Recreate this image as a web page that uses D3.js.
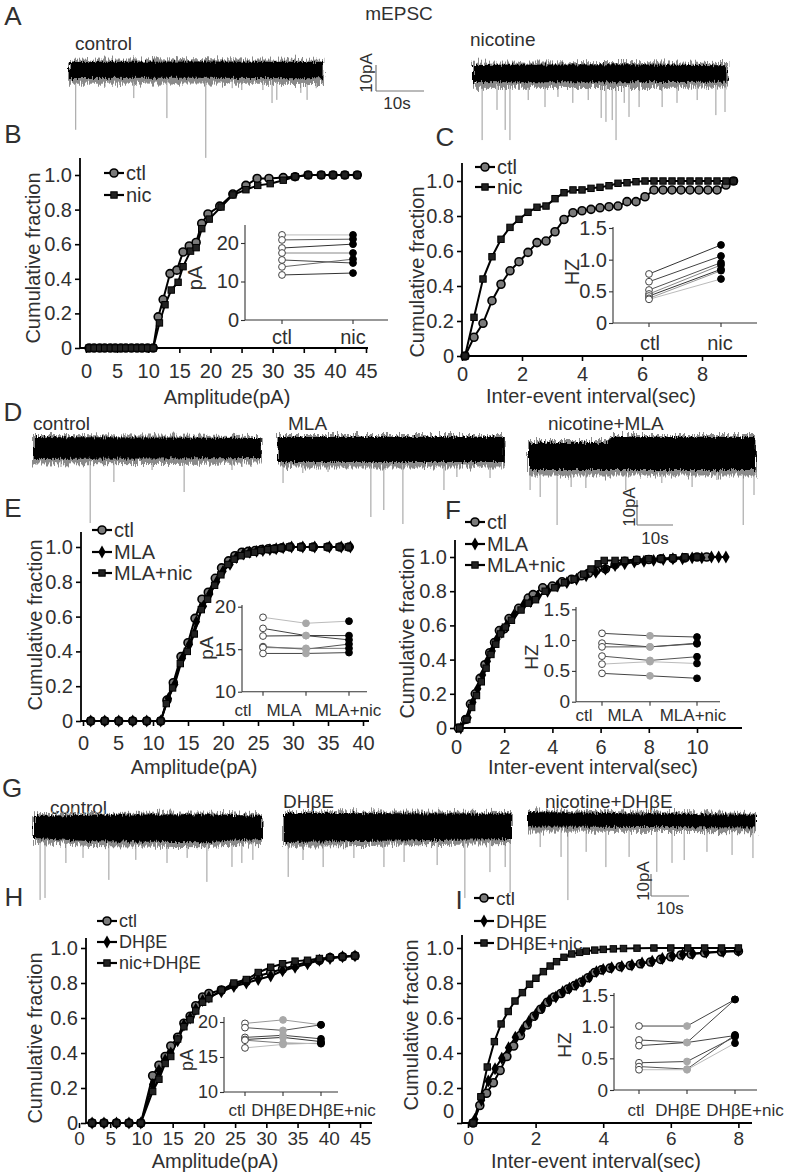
<!DOCTYPE html>
<html><head><meta charset="utf-8">
<script src="https://cdn.jsdelivr.net/npm/d3@7"></script>
<style>body{margin:0;background:#fff}</style>
</head><body><svg id="fig" width="787" height="1173">
<defs>
  <filter id="roughCore" x="-3%" y="-60%" width="106%" height="220%">
    <feTurbulence type="fractalNoise" baseFrequency="1.1 0.08" numOctaves="2" seed="4" result="n"/>
    <feDisplacementMap in="SourceGraphic" in2="n" scale="7" xChannelSelector="R" yChannelSelector="G"/>
  </filter>
  <filter id="roughFuzz" x="-3%" y="-80%" width="106%" height="260%">
    <feTurbulence type="fractalNoise" baseFrequency="1.4 0.04" numOctaves="2" seed="9" result="n"/>
    <feDisplacementMap in="SourceGraphic" in2="n" scale="14" xChannelSelector="R" yChannelSelector="G"/>
  </filter>
</defs>
</svg>
<script>
// ================= DATA =================
// --- Trace events (time s, amplitude pA) and band envelopes [t, top pA, bottom pA]
const A_ctlEvT   = [1.4,7.5,13.5,20.4,28.5,34,36,40.4,42.3,43.3,48.3,49.6,51.5];
const A_ctlEvAmp = [23,6.5,10.8,18.5,33.8,7,7.7,7.7,12.7,11.5,8.8,11.5,7];
const A_ctlBand  = [[0,3.1,-3.1],[26,3.3,-3.0],[53,3.1,-3.2]];
const A_nicEvT   = [1.9,5.0,6.7,7.7,11.5,15.0,17.7,20.8,24.0,26.7,27.7,29.0,29.8,31.5,32.5,34.6,39.4,42.5,46.7,50.6,52.5];
const A_nicEvAmp = [25.8,14.2,21.9,25.8,10.4,13.1,9.2,11.5,10.4,17.3,18.8,18.1,25.8,11.5,16.9,13.1,13.1,11.5,10.4,16.2,15];
const A_nicBand  = [[0,3.1,-3.5],[30,3.4,-3.6],[53,3.0,-3.4]];

const D_ctlEvT   = [7.5,15.6,22.2,32.8,41.7,55,57.8];
const D_ctlEvAmp = [7.6,30,13.6,8.8,17.6,8.8,7.6];
const D_ctlBand  = [[0,4.4,-4.4],[63,4.0,-4.0]];
const D_mlaEvT   = [1.4,6.9,13.9,25.8,29.4,34.7,46.1,49.7,58.9];
const D_mlaEvAmp = [13.6,9.6,9.2,27.2,24.4,30,16.4,11.2,11.6];
const D_mlaBand  = [[0,4.8,-5.2],[63,4.8,-5.2]];
const D_nmEvT    = [0.3,3.1,7.8,11.7,15.8,26.9,36.9,45.3,52.2,59.5,62.5];
const D_nmEvAmp  = [14,16.8,28,12.8,13.2,14,11.2,12.8,10,28,16];
const D_nmBand   = [[0,4.8,-6],[22,4.8,-6],[23,7.2,-6],[63,7.2,-6]];

const G_ctlEvT   = [1.6,2.9,8.4,12.9,19.7,26.8,35,40.3,45.5,52.1,54.7,57.6];
const G_ctlEvAmp = [32.7,31.8,15.9,13.6,23.6,14.5,15.9,13.6,24.5,17.7,15.9,14.5];
const G_ctlBand  = [[0,5.5,-4.5],[15,6,-6],[45,6.2,-6.5],[60,5.5,-5]];
const G_dhEvT    = [1.1,5,10.3,18.4,26.3,31.6,40.3,47.6,54.2,58.2,59.5];
const G_dhEvAmp  = [22.7,15,18.2,14.1,18.2,15.9,17.3,32.3,20.5,18.2,30];
const G_dhBand   = [[0,6.4,-6.8],[15,6.4,-6.5],[60,6.0,-5.5]];
const G_ndEvT    = [3.2,8.7,10.5,15.3,20.5,26.6,33.9,37.9,41.1,47.1,53.7,59.2];
const G_ndEvAmp  = [12.3,16.8,36.4,14.5,21.4,16.8,23.6,19.5,18.2,14.5,15.9,17.3];
const G_ndBand   = [[0,3.6,-3.0],[60,2.4,-3.4]];

// --- Panel B (amplitude, pA)
const B_ctlX = [0.5,1.3,2.2,3.0,3.9,4.7,5.6,6.4,7.3,8.2,9.0,9.9,10.8,11.6,12.4,13.5,14.6,15.6,16.6,17.7,18.6,19.6,21.5,23.6,25.7,27.5,29.4,31.7,33.6,35.7,37.8,39.7,41.6,43.6];
const B_ctlY = [0,0,0,0,0,0,0,0,0,0,0,0,0,0.18,0.28,0.43,0.45,0.555,0.59,0.61,0.72,0.775,0.82,0.89,0.94,0.98,0.98,0.985,0.99,1,1,1,1,1];
const B_nicX = [0.5,1.3,2.2,3.0,3.9,4.7,5.6,6.4,7.3,8.2,9.0,9.9,10.8,11.8,12.7,13.7,14.8,15.6,16.8,17.7,18.6,19.8,21.7,23.6,25.7,27.6,29.6,31.7,33.6,35.7,37.8,39.7,41.6,43.6];
const B_nicY = [0,0,0,0,0,0,0,0,0,0,0,0,0,0.145,0.25,0.335,0.38,0.47,0.56,0.58,0.69,0.745,0.815,0.885,0.915,0.94,0.95,0.97,0.99,1,1,1,1,1];
const B_inCtl = [22.1,20.8,18.7,17.4,15.6,13.8,11.7];
const B_inNic = [22.1,21.0,19.7,17.4,14.8,15.8,12.2];

// --- Panel C (inter-event interval, s)
const C_ctlX = [0.1,0.4,0.7,1.0,1.3,1.6,1.9,2.2,2.5,2.8,3.1,3.4,3.7,4.0,4.3,4.6,4.9,5.2,5.5,5.8,6.1,6.4,6.7,7.0,7.3,7.6,7.9,8.2,8.5,8.8,9.05];
const C_ctlY = [0,0.107,0.187,0.316,0.41,0.487,0.539,0.592,0.648,0.657,0.71,0.78,0.819,0.83,0.838,0.847,0.853,0.857,0.882,0.882,0.91,0.949,0.949,0.949,0.949,0.949,0.949,0.949,0.949,0.977,1.0];
const C_nicX = [0.1,0.4,0.7,1.0,1.3,1.6,1.9,2.2,2.5,2.8,3.1,3.4,3.7,4.0,4.3,4.6,4.9,5.2,5.5,5.8,6.1,6.4,6.7,7.0,7.3,7.6,7.9,8.2,8.5,8.8,9.05];
const C_nicY = [0,0.221,0.44,0.567,0.667,0.735,0.781,0.821,0.85,0.857,0.899,0.933,0.949,0.949,0.958,0.964,0.973,0.987,0.99,0.996,1,1,1,1,1,1,1,1,1,1,1];
const C_inCtl = [0.774,0.652,0.521,0.458,0.426,0.39,0.374];
const C_inNic = [1.232,1.058,0.953,0.916,0.848,0.826,0.695];

// --- Panel E (amplitude, pA)
const E_ctlX = [1.1,3.1,5.1,7.1,9.1,11.1,12.0,12.9,14.0,15.0,16.0,17.0,17.9,18.9,19.8,20.8,21.7,22.7,23.6,24.6,25.5,26.5,27.4,28.4,29.6,31.2,32.9,35.0,36.7,38.0];
const E_ctlY = [0,0,0,0,0,0,0.12,0.22,0.37,0.45,0.59,0.70,0.74,0.82,0.88,0.92,0.95,0.97,0.975,0.98,0.985,0.99,0.99,0.995,1,1,1,1,1,1];
const E_mlaX = [1.1,3.1,5.1,7.1,9.1,11.1,12.2,13.1,14.2,15.2,16.2,17.2,18.1,19.1,20.0,21.0,21.9,22.9,23.8,24.8,25.7,26.7,27.6,28.6,29.8,31.4,33.1,35.2,36.9,38.2];
const E_mlaY = [0,0,0,0,0,0,0.13,0.21,0.36,0.44,0.57,0.66,0.73,0.80,0.86,0.90,0.94,0.96,0.97,0.975,0.98,0.985,0.99,0.995,1,1,1,1,1,1];
const E_nicX = [1.1,3.1,5.1,7.1,9.1,11.1,11.9,12.8,13.9,14.9,15.9,16.9,17.8,18.8,19.7,20.7,21.6,22.6,23.5,24.5,25.4,26.4,27.3,28.3,29.5,31.1,32.8,34.9,36.6,37.9];
const E_nicY = [0,0,0,0,0,0,0.10,0.19,0.33,0.40,0.50,0.64,0.70,0.78,0.84,0.90,0.93,0.95,0.96,0.97,0.98,0.985,0.99,0.995,1,1,1,1,1,1];
const E_inCtl = [18.75,17.45,16.55,15.3,15.2,14.5];
const E_inMla = [18.05,16.6,16.6,15.0,15.1,14.5];
const E_inNic = [18.3,16.1,16.6,15.6,15.1,14.6];

// --- Panel F (inter-event interval, s)
const F_ctlX = [0.1,0.4,0.6,0.8,1.0,1.2,1.4,1.6,1.8,2.0,2.2,2.6,3.0,3.2,3.6,4.0,4.4,4.8,5.2,5.5,5.8,6.2,6.6,7.0,7.5,8.0,8.5,9.0,9.5,10.0,10.4];
const F_ctlY = [0,0.05,0.14,0.2,0.29,0.37,0.44,0.5,0.57,0.58,0.64,0.7,0.76,0.78,0.82,0.83,0.855,0.87,0.89,0.905,0.92,0.93,0.955,0.975,0.98,0.985,0.99,0.99,0.995,1.0,1.0];
const F_mlaX = [0.2,0.5,0.7,0.9,1.1,1.3,1.5,1.7,1.9,2.1,2.4,2.8,3.1,3.4,3.8,4.2,4.6,5.0,5.4,5.8,6.2,6.6,7.0,7.4,7.8,8.2,8.6,9.0,9.4,9.8,10.2,10.6,10.9,11.2];
const F_mlaY = [0,0.06,0.15,0.23,0.31,0.39,0.45,0.52,0.56,0.6,0.66,0.72,0.74,0.77,0.8,0.83,0.85,0.87,0.89,0.91,0.93,0.95,0.96,0.97,0.975,0.98,0.985,0.99,0.99,0.995,0.995,1,1,1];
const F_nicX = [0.15,0.45,0.65,0.85,1.05,1.25,1.45,1.65,1.85,2.05,2.3,2.7,3.0,3.3,3.7,4.1,4.5,4.9,5.3,5.6,5.9,6.15,6.6,7.0,7.5,8.0,8.5,9.0,9.5,10.0];
const F_nicY = [0,0.05,0.12,0.19,0.27,0.35,0.43,0.49,0.55,0.59,0.63,0.69,0.73,0.75,0.8,0.82,0.85,0.87,0.9,0.93,0.96,0.98,0.98,0.98,0.985,0.99,0.99,0.995,1,1];
const F_inCtl = [1.11,0.95,0.89,0.74,0.61,0.46];
const F_inMla = [1.07,0.89,0.89,0.67,0.65,0.42];
const F_inNic = [1.05,0.95,0.94,0.73,0.62,0.38];

// --- Panel H (amplitude, pA)
const H_x    = [2.1,4.0,6.0,8.0,9.9,11.8,12.8,13.8,14.7,15.8,16.8,17.8,18.7,19.8,20.8,22.8,24.8,26.8,28.7,30.7,32.6,34.6,36.6,38.5,40.2,42.2,44.2];
const H_ctlY = [0,0,0,0,0,0.27,0.33,0.38,0.44,0.49,0.57,0.61,0.67,0.72,0.74,0.76,0.79,0.81,0.84,0.86,0.88,0.90,0.92,0.93,0.945,0.95,0.955];
const H_dhY  = [0,0,0,0,0,0.22,0.30,0.36,0.40,0.47,0.56,0.60,0.65,0.70,0.72,0.75,0.78,0.80,0.82,0.84,0.87,0.89,0.91,0.93,0.94,0.95,0.955];
const H_nicY = [0,0,0,0,0,0.18,0.25,0.34,0.38,0.48,0.55,0.59,0.64,0.69,0.71,0.76,0.80,0.82,0.86,0.89,0.91,0.925,0.93,0.94,0.945,0.95,0.955];
const H_inCtl = [19.8,19.2,17.8,17.5,17.4,16.3];
const H_inDh  = [20.3,18.8,18.1,17.8,17.0,16.8];
const H_inNic = [19.6,19.6,17.6,17.2,16.9,17.0];

// --- Panel I (inter-event interval, s)
const I_ctlX = [0.15,0.35,0.55,0.75,0.95,1.15,1.35,1.55,1.75,1.95,2.15,2.35,2.55,2.75,2.95,3.15,3.35,3.55,3.75,3.95,4.2,4.5,4.8,5.1,5.4,5.7,6.0,6.3,6.6,7.0,7.5,8.0];
const I_ctlY = [0,0.1,0.17,0.23,0.30,0.38,0.44,0.5,0.56,0.61,0.65,0.69,0.72,0.74,0.765,0.785,0.805,0.83,0.86,0.875,0.885,0.893,0.9,0.91,0.92,0.935,0.95,0.96,0.965,0.972,0.978,0.982];
const I_dhX  = [0.2,0.4,0.6,0.8,1.0,1.2,1.4,1.6,1.8,2.0,2.2,2.4,2.6,2.8,3.0,3.2,3.4,3.6,3.8,4.0,4.25,4.55,4.85,5.15,5.45,5.75,6.05,6.35,6.65,7.05,7.55,8.0];
const I_dhY  = [0.02,0.13,0.24,0.31,0.37,0.43,0.49,0.53,0.58,0.62,0.66,0.7,0.72,0.75,0.77,0.79,0.81,0.835,0.865,0.878,0.888,0.895,0.903,0.915,0.925,0.94,0.955,0.963,0.968,0.975,0.98,0.985];
const I_nicX = [0.15,0.38,0.57,0.78,0.98,1.19,1.39,1.61,1.82,2.01,2.23,2.43,2.62,2.84,3.07,3.3,3.5,3.75,4.0,4.3,4.6,5.0,5.5,6.0,6.5,7.0,7.5,8.0];
const I_nicY = [0,0.15,0.32,0.465,0.566,0.637,0.697,0.745,0.793,0.827,0.865,0.897,0.922,0.947,0.966,0.975,0.982,0.988,0.992,0.995,0.997,0.999,1,1,1,1,1,1];
const I_inCtl = [1.01,0.79,0.70,0.43,0.37,0.32];
const I_inDh  = [1.01,0.75,0.75,0.45,0.33,0.32];
const I_inNic = [1.43,1.43,0.86,0.84,0.87,0.74];

// --- tick values / labels
const cumTicks = [0,0.2,0.4,0.6,0.8,1.0];
const cumTickLabels = ["0","0.2","0.4","0.6","0.8","1.0"];
const ampTicks45 = [0,5,10,15,20,25,30,35,40,45];
const ampTicks40 = [0,5,10,15,20,25,30,35,40];
const iei8 = [0,2,4,6,8];
const iei10 = [0,2,4,6,8,10];
const hzTicks = [0,0.5,1.0,1.5];
const hzTickLabels = ["0","0.5","1.0","1.5"];

// ================= DRAWING =================
const FONT = "'Liberation Sans', Arial, Helvetica, sans-serif";
const INK = "#303030";
const svg = d3.select("#fig");

function txt(x, y, s, o = {}) {
  const t = svg.append("text").attr("x", x).attr("y", y).text(s)
    .attr("font-family", FONT).attr("font-size", o.size || 20)
    .attr("text-anchor", o.anchor || "start").attr("dominant-baseline", "central")
    .attr("fill", o.fill || INK);
  if (o.rotate) t.attr("transform", `rotate(${o.rotate},${x},${y})`);
  return t;
}
function line(g, x1, y1, x2, y2, col, w) {
  return g.append("line").attr("x1", x1).attr("y1", y1).attr("x2", x2).attr("y2", y2)
    .attr("stroke", col).attr("stroke-width", w);
}
function marker(g, cx, cy, type) {
  if (type === "circle")
    g.append("circle").attr("cx", cx).attr("cy", cy).attr("r", 4).attr("fill", "#7a7a7a").attr("stroke", "#000").attr("stroke-width", 1.6);
  else if (type === "square")
    g.append("rect").attr("x", cx - 3.2).attr("y", cy - 3.2).attr("width", 6.4).attr("height", 6.4).attr("fill", "#222").attr("stroke", "#000").attr("stroke-width", 1);
  else
    g.append("path").attr("d", d3.symbol(d3.symbolDiamond, 48)()).attr("transform", `translate(${cx},${cy})`).attr("fill", "#000");
}

// ---- traces
function trace(tr) {
  const g = svg.append("g");
  const x = d3.scaleLinear().domain([0, tr.T]).range([tr.x0, tr.x0 + tr.T * tr.pxs]);
  const y = d3.scaleLinear().domain([0, -10]).range([tr.cy, tr.cy + 10 * tr.pxa]);
  tr.evT.forEach((t, i) => line(g, x(t), y(0), x(t), y(-tr.evA[i]), "#9a9a9a", 1));
  const fuzz = d3.area().x(d => x(d[0])).y0(d => y(d[2] - 2.2)).y1(d => y(d[1] + 0.8));
  g.append("path").attr("d", fuzz(tr.band)).attr("fill", "#8a8a8a").attr("filter", "url(#roughFuzz)");
  const core = d3.area().x(d => x(d[0])).y0(d => y(d[2])).y1(d => y(d[1]));
  g.append("path").attr("d", core(tr.band)).attr("fill", "#050505").attr("filter", "url(#roughCore)");
  return { x, y };
}
function scaleBar(s, xb, yb, tx, ty, sx, sy) {
  const g = svg.append("g");
  const w = s.x(10) - s.x(0), h = s.y(-10) - s.y(0);
  line(g, xb, yb - h, xb, yb, "#777", 1.2);
  line(g, xb, yb, xb + w, yb, "#777", 1.2);
  txt(tx, ty, "10pA", { size: 17, anchor: "middle", rotate: -90 });
  txt(sx, sy, "10s", { size: 17, anchor: "middle" });
}

// ---- cumulative panels
function cumPanel(p) {
  const g = svg.append("g");
  const x = d3.scaleLinear().domain(p.xd).range(p.xr);
  const y = d3.scaleLinear().domain([0, 1]).range(p.yr);
  line(g, p.ax, p.atop, p.ax, y(0), "#000", 1.8);
  line(g, p.ax, y(0), p.aright, y(0), "#000", 1.8);
  const ya = g.append("g").attr("transform", `translate(${p.ax},0)`)
    .call(d3.axisLeft(y).tickValues(cumTicks).tickFormat((d, i) => cumTickLabels[i]).tickSize(5).tickPadding(3));
  const xa = g.append("g").attr("transform", `translate(0,${y(0)})`)
    .call(d3.axisBottom(x).tickValues(p.xt).tickFormat(d => String(d)).tickSize(5).tickPadding(p.xpad));
  [ya, xa].forEach(a => {
    a.select(".domain").remove();
    a.selectAll("line").attr("stroke", "#000").attr("stroke-width", 1.6);
    a.selectAll("text").attr("font-family", FONT).attr("font-size", 20).attr("fill", INK);
  });
  if (p.xfs) xa.selectAll("text").attr("font-size", p.xfs);
  if (p.zeroShift) ya.selectAll(".tick").filter(d => d === 0).select("text").attr("dy", p.zeroShift);
  p.series.forEach(s => {
    const pts = s.x.map((d, i) => [x(d), y(s.y[i])]);
    g.append("path").attr("d", d3.line()(pts)).attr("fill", "none").attr("stroke", "#000").attr("stroke-width", 2);
  });
  p.series.forEach(s => s.x.forEach((d, i) => marker(g, x(d), y(s.y[i]), s.m)));
  // legend
  p.series.forEach((s, i) => {
    const ly = p.leg.y[i];
    line(g, p.leg.x, ly, p.leg.x + 20, ly, "#000", 2.2);
    marker(g, p.leg.x + 10, ly, s.m);
    txt(p.leg.x + 22, ly, s.name, { size: p.leg.fs || 20 });
  });
  txt(p.ylab[0], p.ylab[1], "Cumulative fraction", { size: 20, anchor: "middle", rotate: -90 });
  txt(p.xlab[0], p.xlab[1], p.xtitle, { size: 20, anchor: "middle" });
}

// ---- insets
function inset(p) {
  const g = svg.append("g");
  const y = d3.scaleLinear().domain(p.yd).range(p.yr);
  const n = p.vals.length;
  const xs = p.cx;
  line(g, p.ax, p.top, p.ax, p.yr[0], "#333", 1.1);
  line(g, p.ax, p.yr[0], p.right, p.yr[0], "#333", 1.1);
  const ya = g.append("g").attr("transform", `translate(${p.ax},0)`)
    .call(d3.axisLeft(y).tickValues(p.yt).tickFormat((d, i) => p.ytl[i]).tickSize(4).tickPadding(2));
  ya.select(".domain").remove();
  ya.selectAll("line").attr("stroke", "#333").attr("stroke-width", 1.1);
  ya.selectAll("text").attr("font-family", FONT).attr("font-size", p.fs).attr("fill", INK);
  xs.forEach(cx => line(g, cx, p.yr[0], cx, p.yr[0] + 4, "#333", 1.1));
  p.cats.forEach((c, i) => txt(p.lx[i], p.ly, c, { size: p.lfs, anchor: "middle" }));
  txt(p.unit[0], p.unit[1], p.unitText, { size: p.fs, anchor: "middle", rotate: -90 });
  const cells = p.vals[0].length;
  for (let k = 0; k < cells; k++) {
    const pts = p.vals.map((arr, j) => [xs[j], y(arr[k])]);
    g.append("path").attr("d", d3.line()(pts)).attr("fill", "none")
      .attr("stroke", p.lineCols[k % p.lineCols.length]).attr("stroke-width", 1);
  }
  p.vals.forEach((arr, j) => arr.forEach(v => {
    const first = j === 0, last = j === n - 1;
    g.append("circle").attr("cx", xs[j]).attr("cy", y(v)).attr("r", 3.4)
      .attr("fill", first ? "#fff" : (last ? "#000" : "#a8a8a8"))
      .attr("stroke", first ? "#444" : (last ? "#000" : "#a8a8a8")).attr("stroke-width", 1);
  }));
}

// ================= PANEL A =================
txt(13, 16, "A", { size: 26, anchor: "middle" });
txt(399, 13, "mEPSC", { size: 19, anchor: "middle" });
txt(75, 43, "control", { size: 19 });
txt(470, 39, "nicotine", { size: 19 });
const sA = trace({ T: 53, x0: 69, pxs: 4.8, cy: 70, pxa: 2.6, evT: A_ctlEvT, evA: A_ctlEvAmp, band: A_ctlBand });
trace({ T: 53, x0: 473, pxs: 4.8, cy: 73, pxa: 2.6, evT: A_nicEvT, evA: A_nicEvAmp, band: A_nicBand });
scaleBar(sA, 376, 91, 366, 73, 397, 103);

// ================= PANEL B / C =================
txt(13, 134, "B", { size: 26, anchor: "middle" });
txt(445, 137, "C", { size: 26, anchor: "middle" });
cumPanel({
  xd: [0, 45], xr: [86, 366], yr: [348, 175], ax: 80, atop: 158, aright: 368, xt: ampTicks45, xpad: 11,
  series: [{ x: B_ctlX, y: B_ctlY, m: "circle", name: "ctl" }, { x: B_nicX, y: B_nicY, m: "square", name: "nic" }],
  leg: { x: 104, y: [173, 195] }, ylab: [33, 258], xlab: [227, 397], xtitle: "Amplitude(pA)"
});
inset({ yd: [0, 25], yr: [320, 223.75], ax: 245, top: 225, right: 388, yt: [0, 10, 20], ytl: ["0", "10", "20"],
  cx: [282, 353], cats: ["ctl", "nic"], lx: [282, 353], ly: 337, fs: 20, lfs: 20, unit: [195, 278], unitText: "pA",
  vals: [B_inCtl, B_inNic], lineCols: ["#bbb", "#555", "#333", "#888", "#444", "#666", "#333"] });

cumPanel({
  xd: [0, 9.5], xr: [462, 747], yr: [356, 181], ax: 462, atop: 163, aright: 747, xt: iei8, xpad: 6,
  series: [{ x: C_ctlX, y: C_ctlY, m: "circle", name: "ctl" }, { x: C_nicX, y: C_nicY, m: "square", name: "nic" }],
  leg: { x: 475, y: [167, 187] }, ylab: [417, 272], xlab: [591, 396], xtitle: "Inter-event interval(sec)"
});
inset({ yd: [0, 1.5], yr: [323, 228], ax: 613, top: 227, right: 757, yt: hzTicks, ytl: hzTickLabels,
  cx: [649, 721], cats: ["ctl", "nic"], lx: [650, 720], ly: 343, fs: 20, lfs: 20, unit: [572, 272], unitText: "HZ",
  vals: [C_inCtl, C_inNic], lineCols: ["#333", "#444", "#555", "#888", "#333", "#999", "#bbb"] });

// ================= PANEL D =================
txt(13, 412, "D", { size: 26, anchor: "middle" });
txt(33, 423, "control", { size: 19 });
txt(288, 423, "MLA", { size: 19 });
txt(548, 423, "nicotine+MLA", { size: 19 });
trace({ T: 63, x0: 34, pxs: 3.6, cy: 448, pxa: 2.5, evT: D_ctlEvT, evA: D_ctlEvAmp, band: D_ctlBand });
trace({ T: 63, x0: 278, pxs: 3.6, cy: 449, pxa: 2.5, evT: D_mlaEvT, evA: D_mlaEvAmp, band: D_mlaBand });
const sD = trace({ T: 63, x0: 529, pxs: 3.6, cy: 455, pxa: 2.5, evT: D_nmEvT, evA: D_nmEvAmp, band: D_nmBand });
scaleBar(sD, 637, 525, 629, 507, 655, 538);

// ================= PANEL E / F =================
txt(13, 508, "E", { size: 26, anchor: "middle" });
txt(453, 510, "F", { size: 26, anchor: "middle" });
cumPanel({
  xd: [0, 41], xr: [83, 370], yr: [721, 547], ax: 81, atop: 532, aright: 369, xt: ampTicks40, xpad: 10,
  series: [{ x: E_ctlX, y: E_ctlY, m: "circle", name: "ctl" }, { x: E_mlaX, y: E_mlaY, m: "diamond", name: " MLA" },
           { x: E_nicX, y: E_nicY, m: "square", name: "MLA+nic" }],
  leg: { x: 92, y: [530, 552, 573] }, ylab: [35, 625], xlab: [194, 767], xtitle: "Amplitude(pA)"
});
inset({ yd: [10, 20], yr: [691.7, 606.7], ax: 242, top: 605, right: 367, yt: [10, 15, 20], ytl: ["10", "15", "20"],
  cx: [263, 306, 349], cats: ["ctl", "MLA", "MLA+nic"], lx: [243, 284, 348], ly: 710, fs: 19, lfs: 17,
  unit: [206, 648], unitText: "pA",
  vals: [E_inCtl, E_inMla, E_inNic], lineCols: ["#bbb", "#444", "#333", "#555", "#777", "#444"] });

cumPanel({
  xd: [0, 12], xr: [456, 745.2], yr: [728, 557], ax: 455, atop: 540, aright: 742, xt: iei10, xpad: 7,
  series: [{ x: F_ctlX, y: F_ctlY, m: "circle", name: "ctl" }, { x: F_mlaX, y: F_mlaY, m: "diamond", name: "MLA" },
           { x: F_nicX, y: F_nicY, m: "square", name: "MLA+nic" }],
  leg: { x: 465, y: [522, 544, 565] }, ylab: [407, 633], xlab: [593, 767], xtitle: "Inter-event interval(sec)"
});
inset({ yd: [0, 1.5], yr: [701.7, 609.3], ax: 576, top: 607, right: 720, yt: hzTicks, ytl: hzTickLabels,
  cx: [602, 650, 697], cats: ["ctl", "MLA", "MLA+nic"], lx: [584, 625, 693], ly: 715, fs: 19, lfs: 17,
  unit: [531, 657], unitText: "HZ",
  vals: [F_inCtl, F_inMla, F_inNic], lineCols: ["#444", "#444", "#555", "#555", "#bbb", "#444"] });

// ================= PANEL G =================
txt(12, 788, "G", { size: 26, anchor: "middle" });
txt(50, 807, "control", { size: 19 });
txt(283, 801, "DHβE", { size: 19 });
txt(545, 801, "nicotine+DHβE", { size: 19 });
trace({ T: 60, x0: 34, pxs: 3.8, cy: 828, pxa: 2.2, evT: G_ctlEvT, evA: G_ctlEvAmp, band: G_ctlBand });
trace({ T: 60, x0: 284, pxs: 3.8, cy: 827, pxa: 2.2, evT: G_dhEvT, evA: G_dhEvAmp, band: G_dhBand });
const sG = trace({ T: 60, x0: 528, pxs: 3.8, cy: 820, pxa: 2.2, evT: G_ndEvT, evA: G_ndEvAmp, band: G_ndBand });
scaleBar(sG, 651, 896, 643, 881, 670, 908);

// ================= PANEL H / I =================
txt(14, 897, "H", { size: 26, anchor: "middle" });
txt(459, 900, "I", { size: 26, anchor: "middle" });
cumPanel({
  xd: [0, 45], xr: [79, 360], yr: [1123, 948], ax: 86, atop: 938, aright: 372, xt: ampTicks45, xpad: 4, xfs: 19,
  series: [{ x: H_x, y: H_ctlY, m: "circle", name: "ctl" }, { x: H_x, y: H_dhY, m: "diamond", name: "DHβE" },
           { x: H_x, y: H_nicY, m: "square", name: "nic+DHβE" }],
  leg: { x: 97, y: [921, 942, 963], fs: 18 }, ylab: [35, 1038], xlab: [215, 1161], xtitle: "Amplitude(pA)"
});
inset({ yd: [10, 20], yr: [1092, 1022], ax: 224, top: 1017, right: 338, yt: [10, 15, 20], ytl: ["10", "15", "20"],
  cx: [245, 283, 321], cats: ["ctl", "DHβE", "DHβE+nic"], lx: [237, 274, 337], ly: 1110, fs: 18, lfs: 17,
  unit: [187, 1060], unitText: "pA",
  vals: [H_inCtl, H_inDh, H_inNic], lineCols: ["#999", "#555", "#444", "#333", "#777", "#bbb"] });

cumPanel({
  xd: [0, 8.5], xr: [468, 755.3], yr: [1123, 948], ax: 462, atop: 935, aright: 752, xt: iei8, xpad: 4, xfs: 19,
  zeroShift: "-0.28em",
  series: [{ x: I_ctlX, y: I_ctlY, m: "circle", name: " ctl" }, { x: I_dhX, y: I_dhY, m: "diamond", name: "DHβE" },
           { x: I_nicX, y: I_nicY, m: "square", name: "DHβE+nic" }],
  leg: { x: 474, y: [898, 921, 943], fs: 19 }, ylab: [411, 1025], xlab: [596, 1161], xtitle: "Inter-event interval(sec)"
});
inset({ yd: [0, 1.5], yr: [1090, 995], ax: 614, top: 993, right: 757, yt: hzTicks, ytl: hzTickLabels,
  cx: [639, 687, 735], cats: ["ctl", "DHβE", "DHβE+nic"], lx: [636, 678, 745], ly: 1110, fs: 19, lfs: 17,
  unit: [564, 1045], unitText: "HZ",
  vals: [I_inCtl, I_inDh, I_inNic], lineCols: ["#444", "#444", "#444", "#444", "#555", "#bbb"] });
</script></body></html>
